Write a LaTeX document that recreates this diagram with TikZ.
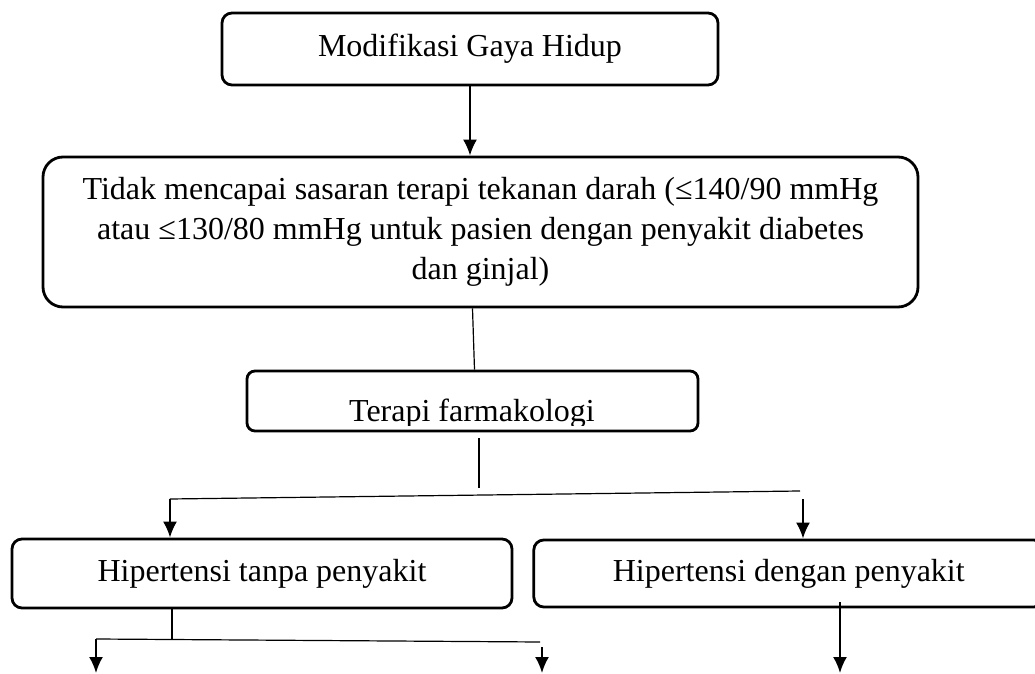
\documentclass[tikz,border=0pt]{standalone}
\usepackage{fontspec}
\setmainfont{Liberation Serif}
\usepackage{tikz}
\usetikzlibrary{arrows.meta, positioning, calc}
\tikzset{
  stepbox/.style={rectangle,draw=black,line width=1.4pt,rounded corners=5pt,fill=white,inner sep=0pt,align=center,font=\fontsize{16}{20}\selectfont},
  widebox/.style={stepbox,rounded corners=10pt},
  boxtext/.style={inner sep=0pt,font=\fontsize{16}{20}\selectfont},
  link/.style={draw=black,line width=0.6pt},
  flow/.style={draw=black,line width=1pt,-{Latex[length=8pt,width=7pt]}},
}

\begin{document}
\begin{tikzpicture}[x=0.5pt,y=-0.5pt]
	    \clip (0,0) rectangle (1035,674);
	    \node[stepbox,minimum width=248pt,minimum height=36pt] (life) at (470,49) {Modifikasi Gaya Hidup};
	    \node[widebox,minimum width=437.5pt,minimum height=75pt] (target) at (480.5,232) {Tidak mencapai sasaran terapi tekanan darah (≤140/90 mmHg\\atau ≤130/80 mmHg untuk pasien dengan penyakit diabetes\\dan ginjal)};
	    \node[stepbox,rounded corners=4pt,minimum width=225.5pt,minimum height=30pt] (pharm) at (472.5,401) {};
	    \begin{scope}
	        \clip (pharm.north west) rectangle (698,425);
	        \node[boxtext,anchor=base] (pharmtext) at (472,421) {Terapi farmakologi};
	    \end{scope}
	    \node[stepbox,minimum width=250pt,minimum height=34.5pt] (nodis) at (262,573.5) {Hipertensi tanpa penyakit};
	    \node[stepbox,minimum width=255pt,minimum height=33.5pt,right=9.5pt of nodis] (withdis) {Hipertensi dengan penyakit};
	    \coordinate (split) at (479,488);
	    \coordinate (armL) at (170,499);
	    \coordinate (armR) at (800,491);
	    \coordinate (armR2) at (803,499);
	    \coordinate (fork) at (172,639);
	    \coordinate (forkL) at (96,639);
	    \coordinate (forkR) at (540,642);
	    \coordinate (forkR2) at (542,647);
	    \coordinate (endL) at (96,673);
	    \coordinate (endM) at (542,673);
	    \coordinate (endR) at (840,673);
	    \draw[flow] (life.south) -- (life.south |- target.north);
	    \draw[link] ([xshift=-4pt]target.south) -- ([xshift=1pt]pharm.north);
	    \draw[link] ([xshift=3.25pt,yshift=-3pt]pharm.south) -- (split);
	    \draw[link] (armL) -- (armR);
	    \draw[flow] (armL) -- (armL |- nodis.north);
	    \draw[flow] (armR2) -- (armR2 |- withdis.north);
	    \draw[link] (fork |- nodis.south) -- (fork);
	    \draw[link] (forkL) -- (forkR);
	    \draw[flow] (forkL) -- (endL);
	    \draw[flow] (forkR2) -- (endM);
	    \draw[flow] ([yshift=3pt]endR |- withdis.south) -- (endR);
	\end{tikzpicture}
\end{document}
